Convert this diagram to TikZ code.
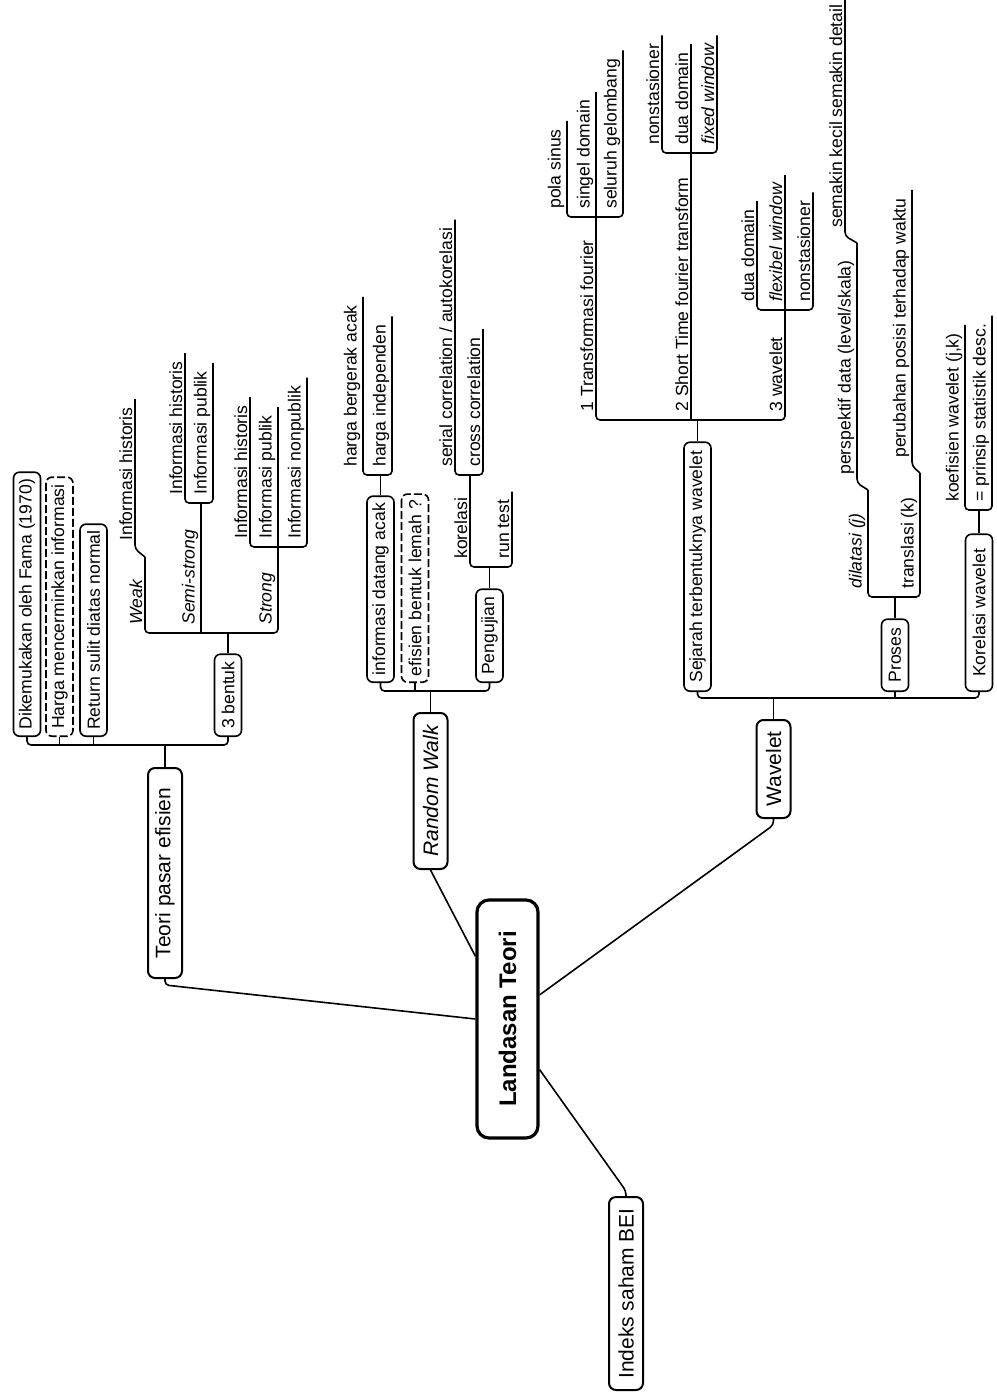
\documentclass[tikz,border=0pt]{standalone}
\usepackage{fontspec}
\setmainfont{Liberation Sans}
\usetikzlibrary{calc}
\begin{document}
\begin{tikzpicture}[x=0.5pt,y=-0.5pt,
  link/.style={draw=black, line width=0.8pt, rounded corners=2pt},
  bx/.style={rotate=90, draw, line width=0.8pt, rounded corners=3pt, inner xsep=3pt, inner ysep=0pt, minimum height=13.5pt, font=\fontsize{8.8}{10}\selectfont, anchor=west},
  dbx/.style={bx, dash pattern=on 4pt off 1.5pt},
  lone/.style={rotate=90, draw, line width=1pt, rounded corners=3.5pt, inner xsep=3pt, inner ysep=0pt, minimum height=17pt, font=\fontsize{10.5}{12}\selectfont},
  rootbox/.style={rotate=90, draw, line width=1.6pt, rounded corners=6pt, minimum width=119pt, minimum height=30.5pt, font=\bfseries\fontsize{12}{14}\selectfont},
  ul/.style={rotate=90, inner xsep=4pt, inner ysep=1.2pt, font=\fontsize{8.8}{10}\selectfont, anchor=south west},
  uli/.style={ul, font=\itshape\fontsize{8.8}{10}\selectfont},
]
\useasboundingbox (0,0) rectangle (996,1395);

% root
\node[rootbox] (root) at (507.5,1019) {Landasan Teori};
% level 1
\node[lone, minimum width=105pt] (teori) at (165,873) {Teori pasar efisien};
\node[lone, minimum width=78pt, font=\itshape\fontsize{10.5}{12}\selectfont] (rw) at (430.5,791) {Random Walk};
\node[lone, minimum width=49pt] (wav) at (773.5,769) {Wavelet};
\node[lone, minimum width=96.5pt] (idx) at (626,1293.5) {Indeks saham BEI};

% root links
\draw[link] (teori.west) -- ++(0,6) -- (root.north);
\draw[link] (rw.west) -- ($(root.north east)!0.24!(root.north west)$);
\draw[link] (wav.west) -- ++(0,6) -- ($(root.south east)!0.4!(root.south west)$);
\draw[link] (idx.east) -- ++(0,-5) -- ($(root.south east)!0.71!(root.south west)$);

% Teori group
\node[bx, minimum width=132pt] (fama) at (27,737) {Dikemukakan oleh Fama (1970)};
\node[dbx, minimum width=129.5pt] (harga) at (59.5,737) {Harga mencerminkan informasi};
\node[bx, minimum width=106pt] (ret) at (93.5,737) {Return sulit diatas normal};
\node[bx, minimum width=41pt] (bentuk) at (228,737) {3 bentuk};
\coordinate (teoriB) at (165,745);
\draw[link] (teori.east) -- (teoriB);
\draw[link] (fama.west) |- (teoriB) -| (bentuk.west);
\draw[link] (harga.west) -- (harga.west |- teoriB);
\draw[link] (ret.west) -- (ret.west |- teoriB);

% 3 bentuk group
\coordinate (bentukB) at (228,633);
\draw[link] (bentuk.east) -- (bentukB);
\node[uli] (weak) at (145,633) {Weak};
\node[uli] (semi) at (201,633) {Semi-strong};
\node[uli] (strong) at (278,633) {Strong};
\coordinate (weakE) at (145,557);
\coordinate (semiE) at (201,503);
\coordinate (strongE) at (278,547);
\draw[link] (weakE) -- (weak.south west) -- (strong.south west) -- (strongE);
\draw[link] (semi.south west) -- (semiE);
\node[ul] (hisA) at (135,549) {Informasi historis};
\draw[link] (weakE) -- (hisA.south west) -- (hisA.south east);
\node[ul] (hisB) at (185,503) {Informasi historis};
\node[ul] (pubA) at (213,503) {Informasi publik};
\draw[link] (hisB.south east) -- (hisB.south west) -- (pubA.south west) -- (pubA.south east);
\node[ul] (hisC) at (250,547) {Informasi historis};
\node[ul] (pubB) at (278,547) {Informasi publik};
\node[ul] (npub) at (307,547) {Informasi nonpublik};
\draw[link] (hisC.south east) -- (hisC.south west) -- (npub.south west) -- (npub.south east);
\draw[link] (pubB.south west) -- (pubB.south east);

% Random Walk group
\node[bx, minimum width=93pt] (acak) at (380.5,683) {informasi datang acak};
\node[dbx, minimum width=89pt] (eff) at (415,683) {efisien bentuk lemah ?};
\node[bx, minimum width=46.5pt] (peng) at (489.5,683) {Pengujian};
\coordinate (rwB) at (430.5,691);
\draw[link] (rw.east) -- (rwB);
\draw[link] (acak.west) |- (rwB) -| (peng.west);
\draw[link] (eff.west) -- (eff.west |- rwB);
\coordinate (acakB) at (380.5,475);
\draw[link] (acak.east) -- (acakB);
\node[ul] (hba) at (363,475) {harga bergerak acak};
\node[ul] (hin) at (392,475) {harga independen};
\draw[link] (hba.south east) -- (hba.south west) -- (hin.south west) -- (hin.south east);
\coordinate (pengB) at (489.5,567);
\draw[link] (peng.east) -- (pengB);
\node[ul] (kor) at (470,567) {korelasi};
\node[ul] (run) at (512,567) {run test};
\coordinate (korE) at (470,475);
\draw[link] (korE) -- (kor.south west) -- (run.south west) -- (run.south east);
\node[ul] (ser) at (455,475) {serial correlation / autokorelasi};
\node[ul] (cross) at (483,475) {cross correlation};
\draw[link] (ser.south east) -- (ser.south west) -- (cross.south west) -- (cross.south east);

% Wavelet group
\node[bx, minimum width=124.5pt] (sej) at (697.5,692) {Sejarah terbentuknya wavelet};
\node[bx, minimum width=36pt] (pros) at (895,692) {Proses};
\node[bx, minimum width=78.5pt] (korw) at (979,692) {Korelasi wavelet};
\coordinate (wavB) at (773.5,698);
\draw[link] (wav.east) -- (wavB);
\draw[link] (sej.west) |- (wavB) -| (korw.west);
\draw[link] (pros.west) -- (pros.west |- wavB);

% Sejarah group
\coordinate (sejB) at (697.5,420);
\draw[link] (sej.east) -- (sejB);
\node[ul] (tf1) at (596,420) {1 Transformasi fourier};
\node[ul] (tf2) at (691,420) {2 Short Time fourier transform};
\node[ul] (tf3) at (785,420) {3 wavelet};
\coordinate (tf1E) at (596,217);
\coordinate (tf2E) at (691,153);
\coordinate (tf3E) at (785,310);
\draw[link] (tf1E) -- (tf1.south west) -- (tf3.south west) -- (tf3E);
\draw[link] (tf2.south west) -- (tf2E);
\node[ul] (pola) at (567,217) {pola sinus};
\node[ul] (sing) at (596,217) {singel domain};
\node[ul] (selu) at (623,217) {seluruh gelombang};
\draw[link] (pola.south east) -- (pola.south west) -- (selu.south west) -- (selu.south east);
\draw[link] (sing.south west) -- (sing.south east);
\node[ul] (nsA) at (662,153) {nonstasioner};
\node[ul] (ddA) at (691,153) {dua domain};
\node[uli] (fw) at (717,153) {fixed window};
\draw[link] (nsA.south east) -- (nsA.south west) -- (fw.south west) -- (fw.south east);
\draw[link] (ddA.south west) -- (ddA.south east);
\node[ul] (ddB) at (757,310) {dua domain};
\node[uli] (flex) at (785,310) {flexibel window};
\node[ul] (nsB) at (813,310) {nonstasioner};
\draw[link] (ddB.south east) -- (ddB.south west) -- (nsB.south west) -- (nsB.south east);
\draw[link] (flex.south west) -- (flex.south east);

% Proses group
\coordinate (prosB) at (895,597);
\draw[link] (pros.east) -- (prosB);
\node[uli] (dil) at (868,597) {dilatasi (j)};
\node[ul] (tra) at (920,597) {translasi (k)};
\coordinate (dilE) at (868,490);
\coordinate (traE) at (920,473);
\draw[link] (dilE) -- (dil.south west) -- (tra.south west) -- (traE);
\node[ul] (per) at (857,483) {perspektif data (level/skala)};
\coordinate (perE) at (857,243);
\draw[link] (dilE) -- (per.south west) -- (perE);
\node[ul] (sem) at (845,236) {semakin kecil semakin detail};
\draw[link] (perE) -- (sem.south west) -- (sem.south east);
\node[ul] (pos) at (912,466) {perubahan posisi terhadap waktu};
\draw[link] (traE) -- (pos.south west) -- (pos.south east);

% Korelasi wavelet group
\coordinate (korwB) at (979,510);
\draw[link] (korw.east) -- (korwB);
\node[ul] (koef) at (965,510) {koefisien wavelet (j,k)};
\node[ul] (prin) at (992,510) {= prinsip statistik desc.};
\draw[link] (koef.south east) -- (koef.south west) -- (prin.south west) -- (prin.south east);
\end{tikzpicture}
\end{document}
